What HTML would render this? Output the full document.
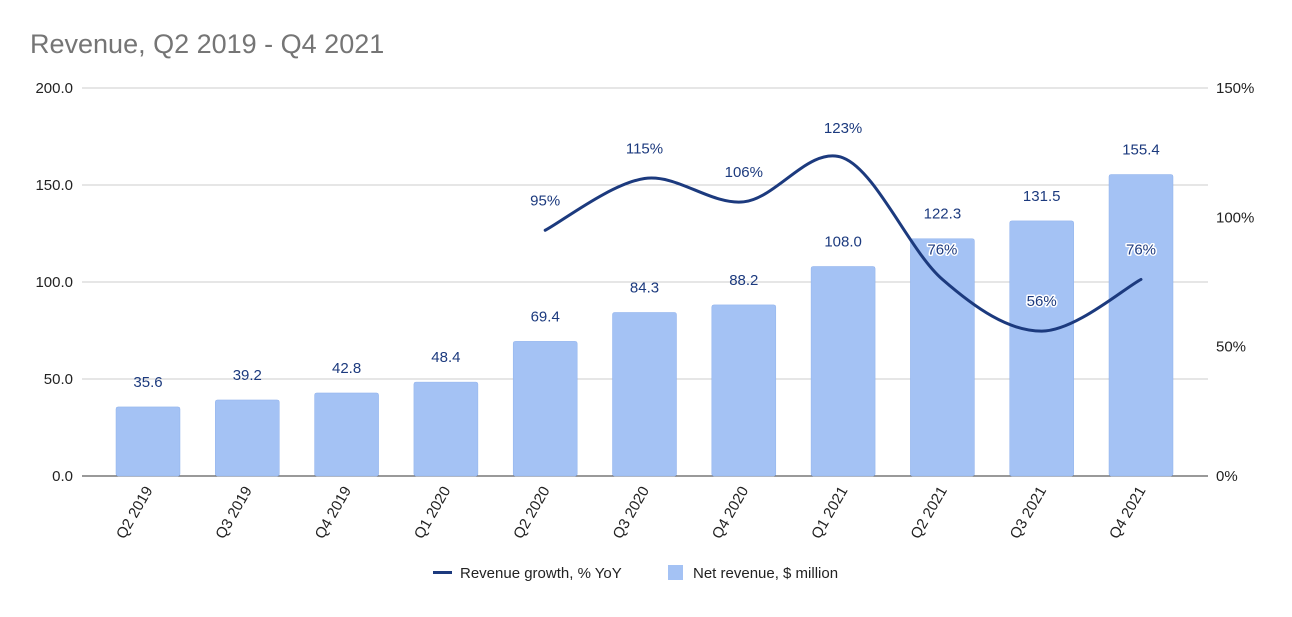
<!DOCTYPE html>
<html><head><meta charset="utf-8"><style>
body{margin:0;background:#fff}
text{font-family:"Liberation Sans",Arial,sans-serif}
</style></head><body>
<svg id="chart" width="1292" height="612" viewBox="0 0 1292 612" xmlns="http://www.w3.org/2000/svg">
<text x="30" y="53" font-size="27" fill="#757575">Revenue, Q2 2019 - Q4 2021</text>
<g id="grid"></g><g id="bars"></g><g id="line"></g><g id="labels"></g><g id="xlabels"></g>
<g>
<rect x="433" y="571" width="19" height="3" fill="#1c3a7e"/>
<text x="460" y="578" font-size="15" fill="#222">Revenue growth, % YoY</text>
<rect x="668" y="565" width="15" height="15" fill="#a4c2f4"/>
<text x="693" y="578" font-size="15" fill="#222">Net revenue, $ million</text>
</g>
</svg>
<script>
const categories=["Q2 2019","Q3 2019","Q4 2019","Q1 2020","Q2 2020","Q3 2020","Q4 2020","Q1 2021","Q2 2021","Q3 2021","Q4 2021"];
const revenue=[35.6,39.2,42.8,48.4,69.4,84.3,88.2,108.0,122.3,131.5,155.4];
const growth=[null,null,null,null,95,115,106,123,76,56,76];
const leftTicks=[0,50,100,150,200];
const rightTicks=[0,50,100,150];
const NS="http://www.w3.org/2000/svg";
const y0=476,y1=88,xl=82,xr=1208;
const yL=v=>y0-(v/200)*(y0-y1);
const yR=v=>y0-(v/150)*(y0-y1);
const step=(1141-148)/(categories.length-1);
const xC=i=>148+step*i;
function mk(t,a,p){const e=document.createElementNS(NS,t);for(const k in a)e.setAttribute(k,a[k]);p.appendChild(e);return e;}
const grid=document.getElementById('grid');
leftTicks.forEach(v=>{
 const l=mk('line',{x1:xl,x2:xr,y1:yL(v),y2:yL(v),stroke:v===0?'#333':'#ccc','stroke-width':1},grid);
 
 
 const t=mk('text',{x:73,y:yL(v)+5,'text-anchor':'end','font-size':15,fill:'#222'},grid);
 t.textContent=v.toFixed(1);
 
 
});
rightTicks.forEach(v=>{
 const t=mk('text',{x:1216,y:yR(v)+5,'font-size':15,fill:'#222'},grid);
 t.textContent=v+'%';
 
 
});
const bars=document.getElementById('bars'),labels=document.getElementById('labels'),xg=document.getElementById('xlabels');
revenue.forEach((v,i)=>{
 const r=mk('rect',{x:xC(i)-32,y:yL(v),width:64,height:y0-yL(v),fill:'#a4c2f4',stroke:'#8fb1ec','stroke-width':0.5,rx:2},bars);
 
 
 const t=mk('text',{x:xC(i),y:yL(v)-20,'text-anchor':'middle','font-size':15,fill:'#1c3a7e'},labels);
 t.textContent=v.toFixed(1);
 
 
 const xt=mk('text',{x:0,y:0,'text-anchor':'end','font-size':15,fill:'#222',transform:`translate(${xC(i)+5},${y0+14}) rotate(-60)`},xg);
 xt.textContent=categories[i];
 
 
});
const pts=[];growth.forEach((g,i)=>{if(g!==null)pts.push([xC(i),yR(g),g]);});
let d=`M${pts[0][0]},${pts[0][1]}`;
for(let i=0;i<pts.length-1;i++){
 const p0=pts[Math.max(0,i-1)],p1=pts[i],p2=pts[i+1],p3=pts[Math.min(pts.length-1,i+2)];
 const c1x=p1[0]+(p2[0]-p0[0])/6,c1y=p1[1]+(p2[1]-p0[1])/6;
 const c2x=p2[0]-(p3[0]-p1[0])/6,c2y=p2[1]-(p3[1]-p1[1])/6;
 d+=` C${c1x},${c1y} ${c2x},${c2y} ${p2[0]},${p2[1]}`;
}
const path=mk('path',{d:d,fill:'none',stroke:'#1c3a7e','stroke-width':3,'stroke-linecap':'round'},document.getElementById('line'));


pts.forEach(p=>{
 const t=mk('text',{x:p[0],y:p[1]-25,'text-anchor':'middle','font-size':15,fill:'#1c3a7e',stroke:'#fff','stroke-width':3,'paint-order':'stroke','stroke-linejoin':'round'},labels);
 t.textContent=p[2]+'%';
 
 
});
</script>
</body></html>
